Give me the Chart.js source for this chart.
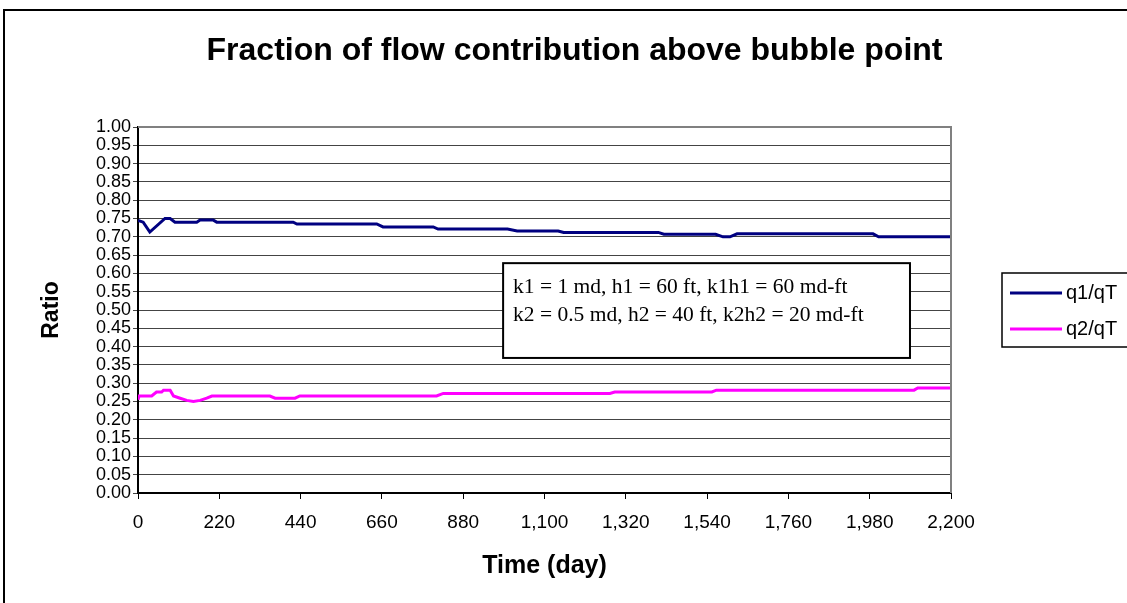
<!DOCTYPE html>
<html>
<head>
<meta charset="utf-8">
<script src="https://cdn.jsdelivr.net/npm/chart.js@4.4.1/dist/chart.umd.min.js"></script>
<style>
  html, body { margin: 0; padding: 0; background: #fff; overflow: hidden; }
  #frame { position: absolute; left: 3px; top: 9px; width: 1200px; height: 700px; border: 2px solid #000; }
  #mycanvas { position: absolute; left: 0; top: 0; }
</style>
</head>
<body>
<div id="frame"></div>
<canvas id="mycanvas" width="1127" height="603"></canvas>
<script>
// time (day) and flow ratio readings, one pair of arrays per series
var q1Days  = [0, 14, 32, 73, 87, 100, 159, 168, 203, 213, 420, 430, 646, 663, 799, 812, 1000, 1026, 1137, 1152, 1408, 1423, 1563, 1583, 1602, 1621, 1989, 2004, 2200];
var q1Ratio = [0.745, 0.740, 0.713, 0.750, 0.750, 0.740, 0.740, 0.746, 0.746, 0.740, 0.740, 0.735, 0.735, 0.727, 0.727, 0.721, 0.721, 0.716, 0.716, 0.712, 0.712, 0.707, 0.707, 0.700, 0.700, 0.708, 0.708, 0.700, 0.700];

var q2Days  = [0, 3, 37, 50, 64, 69, 87, 96, 114, 132, 150, 168, 186, 200, 357, 371, 425, 438, 808, 826, 1277, 1290, 1553, 1565, 2100, 2110, 2200];
var q2Ratio = [0.255, 0.265, 0.265, 0.276, 0.276, 0.281, 0.281, 0.265, 0.259, 0.253, 0.250, 0.253, 0.259, 0.265, 0.265, 0.259, 0.259, 0.265, 0.265, 0.272, 0.272, 0.276, 0.276, 0.281, 0.281, 0.287, 0.287];

var seriesNames = ['q1/qT', 'q2/qT'];
var chartTitle = 'Fraction of flow contribution above bubble point';
var noteLines = ['k1 = 1 md, h1 = 60 ft, k1h1 = 60 md-ft', 'k2 = 0.5 md, h2 = 40 ft, k2h2 = 20 md-ft'];

var FONT = '"Liberation Sans", Arial, sans-serif';

function toPoints(xs, ys) {
  var pts = [];
  for (var i in xs) {
    pts.push({x: xs[i], y: ys[i]});
  }
  return pts;
}

var extras = {
  id: 'extras',
  afterDatasetsDraw: function(chart) {
    var ctx = chart.ctx;
    var a = chart.chartArea;
    var x = chart.scales.x, y = chart.scales.y;

    ctx.save();
    // title, sits a bit right of the plot centre like the original
    ctx.fillStyle = '#000';
    ctx.font = 'bold 32px ' + FONT;
    ctx.textAlign = 'center';
    ctx.textBaseline = 'middle';
    ctx.fillText(chartTitle, (a.left + a.right) / 2 + 30, 51);

    // grey plot border top / right
    ctx.strokeStyle = '#808080';
    ctx.lineWidth = 2;
    ctx.beginPath();
    ctx.moveTo(a.left, a.top);
    ctx.lineTo(a.right, a.top);
    ctx.lineTo(a.right, a.bottom);
    ctx.stroke();

    // text box with the layer properties
    var bx1 = x.getPixelForValue(988), bx2 = x.getPixelForValue(2089);
    var by1 = y.getPixelForValue(0.628), by2 = y.getPixelForValue(0.369);
    ctx.fillStyle = '#fff';
    ctx.fillRect(bx1, by1, bx2 - bx1, by2 - by1);
    ctx.strokeStyle = '#000';
    ctx.lineWidth = 2;
    ctx.strokeRect(bx1, by1, bx2 - bx1, by2 - by1);
    ctx.fillStyle = '#000';
    ctx.font = '21.5px "Liberation Serif", "Times New Roman", serif';
    ctx.textAlign = 'left';
    ctx.fillText(noteLines[0], bx1 + 10, by1 + 24);
    ctx.fillText(noteLines[1], bx1 + 10, by1 + 52);

    // legend
    var lx = a.right + 51, ly = 273;
    ctx.fillStyle = '#fff';
    ctx.fillRect(lx, ly, 200, 74);
    ctx.strokeStyle = '#000';
    ctx.lineWidth = 1.5;
    ctx.strokeRect(lx, ly, 200, 74);
    ctx.font = '20px ' + FONT;
    chart.data.datasets.forEach(function(ds, i) {
      var cy = ly + 20 + i * 36;
      ctx.strokeStyle = ds.borderColor;
      ctx.lineWidth = 3;
      ctx.beginPath();
      ctx.moveTo(lx + 8, cy);
      ctx.lineTo(lx + 60, cy);
      ctx.stroke();
      ctx.fillStyle = '#000';
      ctx.fillText(ds.label, lx + 64, cy);
    });
    ctx.restore();
  }
};

var ctx = document.getElementById('mycanvas');

var chart = new Chart(ctx, {
  type: 'line',
  data: {
    datasets: [
      {
        label: seriesNames[0],
        data: toPoints(q1Days, q1Ratio),
        borderColor: '#000080',
        borderWidth: 3,
        pointRadius: 0,
        tension: 0,
        fill: false
      },
      {
        label: seriesNames[1],
        data: toPoints(q2Days, q2Ratio),
        borderColor: '#FF00FF',
        borderWidth: 3,
        pointRadius: 0,
        tension: 0,
        fill: false
      }
    ]
  },
  options: {
    responsive: false,
    animation: false,
    layout: { padding: { left: 38, right: 176, top: 127, bottom: 0 } },
    plugins: {
      legend: { display: false },
      tooltip: { enabled: false },
      title: { display: false }
    },
    scales: {
      x: {
        type: 'linear',
        min: 0,
        max: 2200,
        afterFit: function(scale) { scale.height = 110; },
        ticks: {
          stepSize: 220,
          color: '#000',
          font: { family: FONT, size: 19 },
          padding: 12,
          maxRotation: 0
        },
        grid: { drawOnChartArea: false, drawTicks: true, tickLength: 6, color: '#000' },
        border: { color: '#000', width: 2 },
        title: {
          display: true,
          text: 'Time (day)',
          color: '#000',
          font: { family: FONT, size: 25, weight: 'bold' },
          padding: { top: 10, bottom: 22 }
        }
      },
      y: {
        min: 0,
        max: 1,
        afterFit: function(scale) { scale.width = 100; },
        ticks: {
          stepSize: 0.05,
          autoSkip: false,
          color: '#000',
          font: { family: FONT, size: 18 },
          padding: 2,
          callback: function(v) { return v.toFixed(2); }
        },
        grid: { color: '#444', lineWidth: 1, tickLength: 5 },
        border: { color: '#000', width: 2 },
        title: {
          display: true,
          text: 'Ratio',
          color: '#000',
          font: { family: FONT, size: 23, weight: 'bold' },
          padding: { top: 0, bottom: 0 }
        }
      }
    }
  },
  plugins: [extras]
});
</script>
</body>
</html>
